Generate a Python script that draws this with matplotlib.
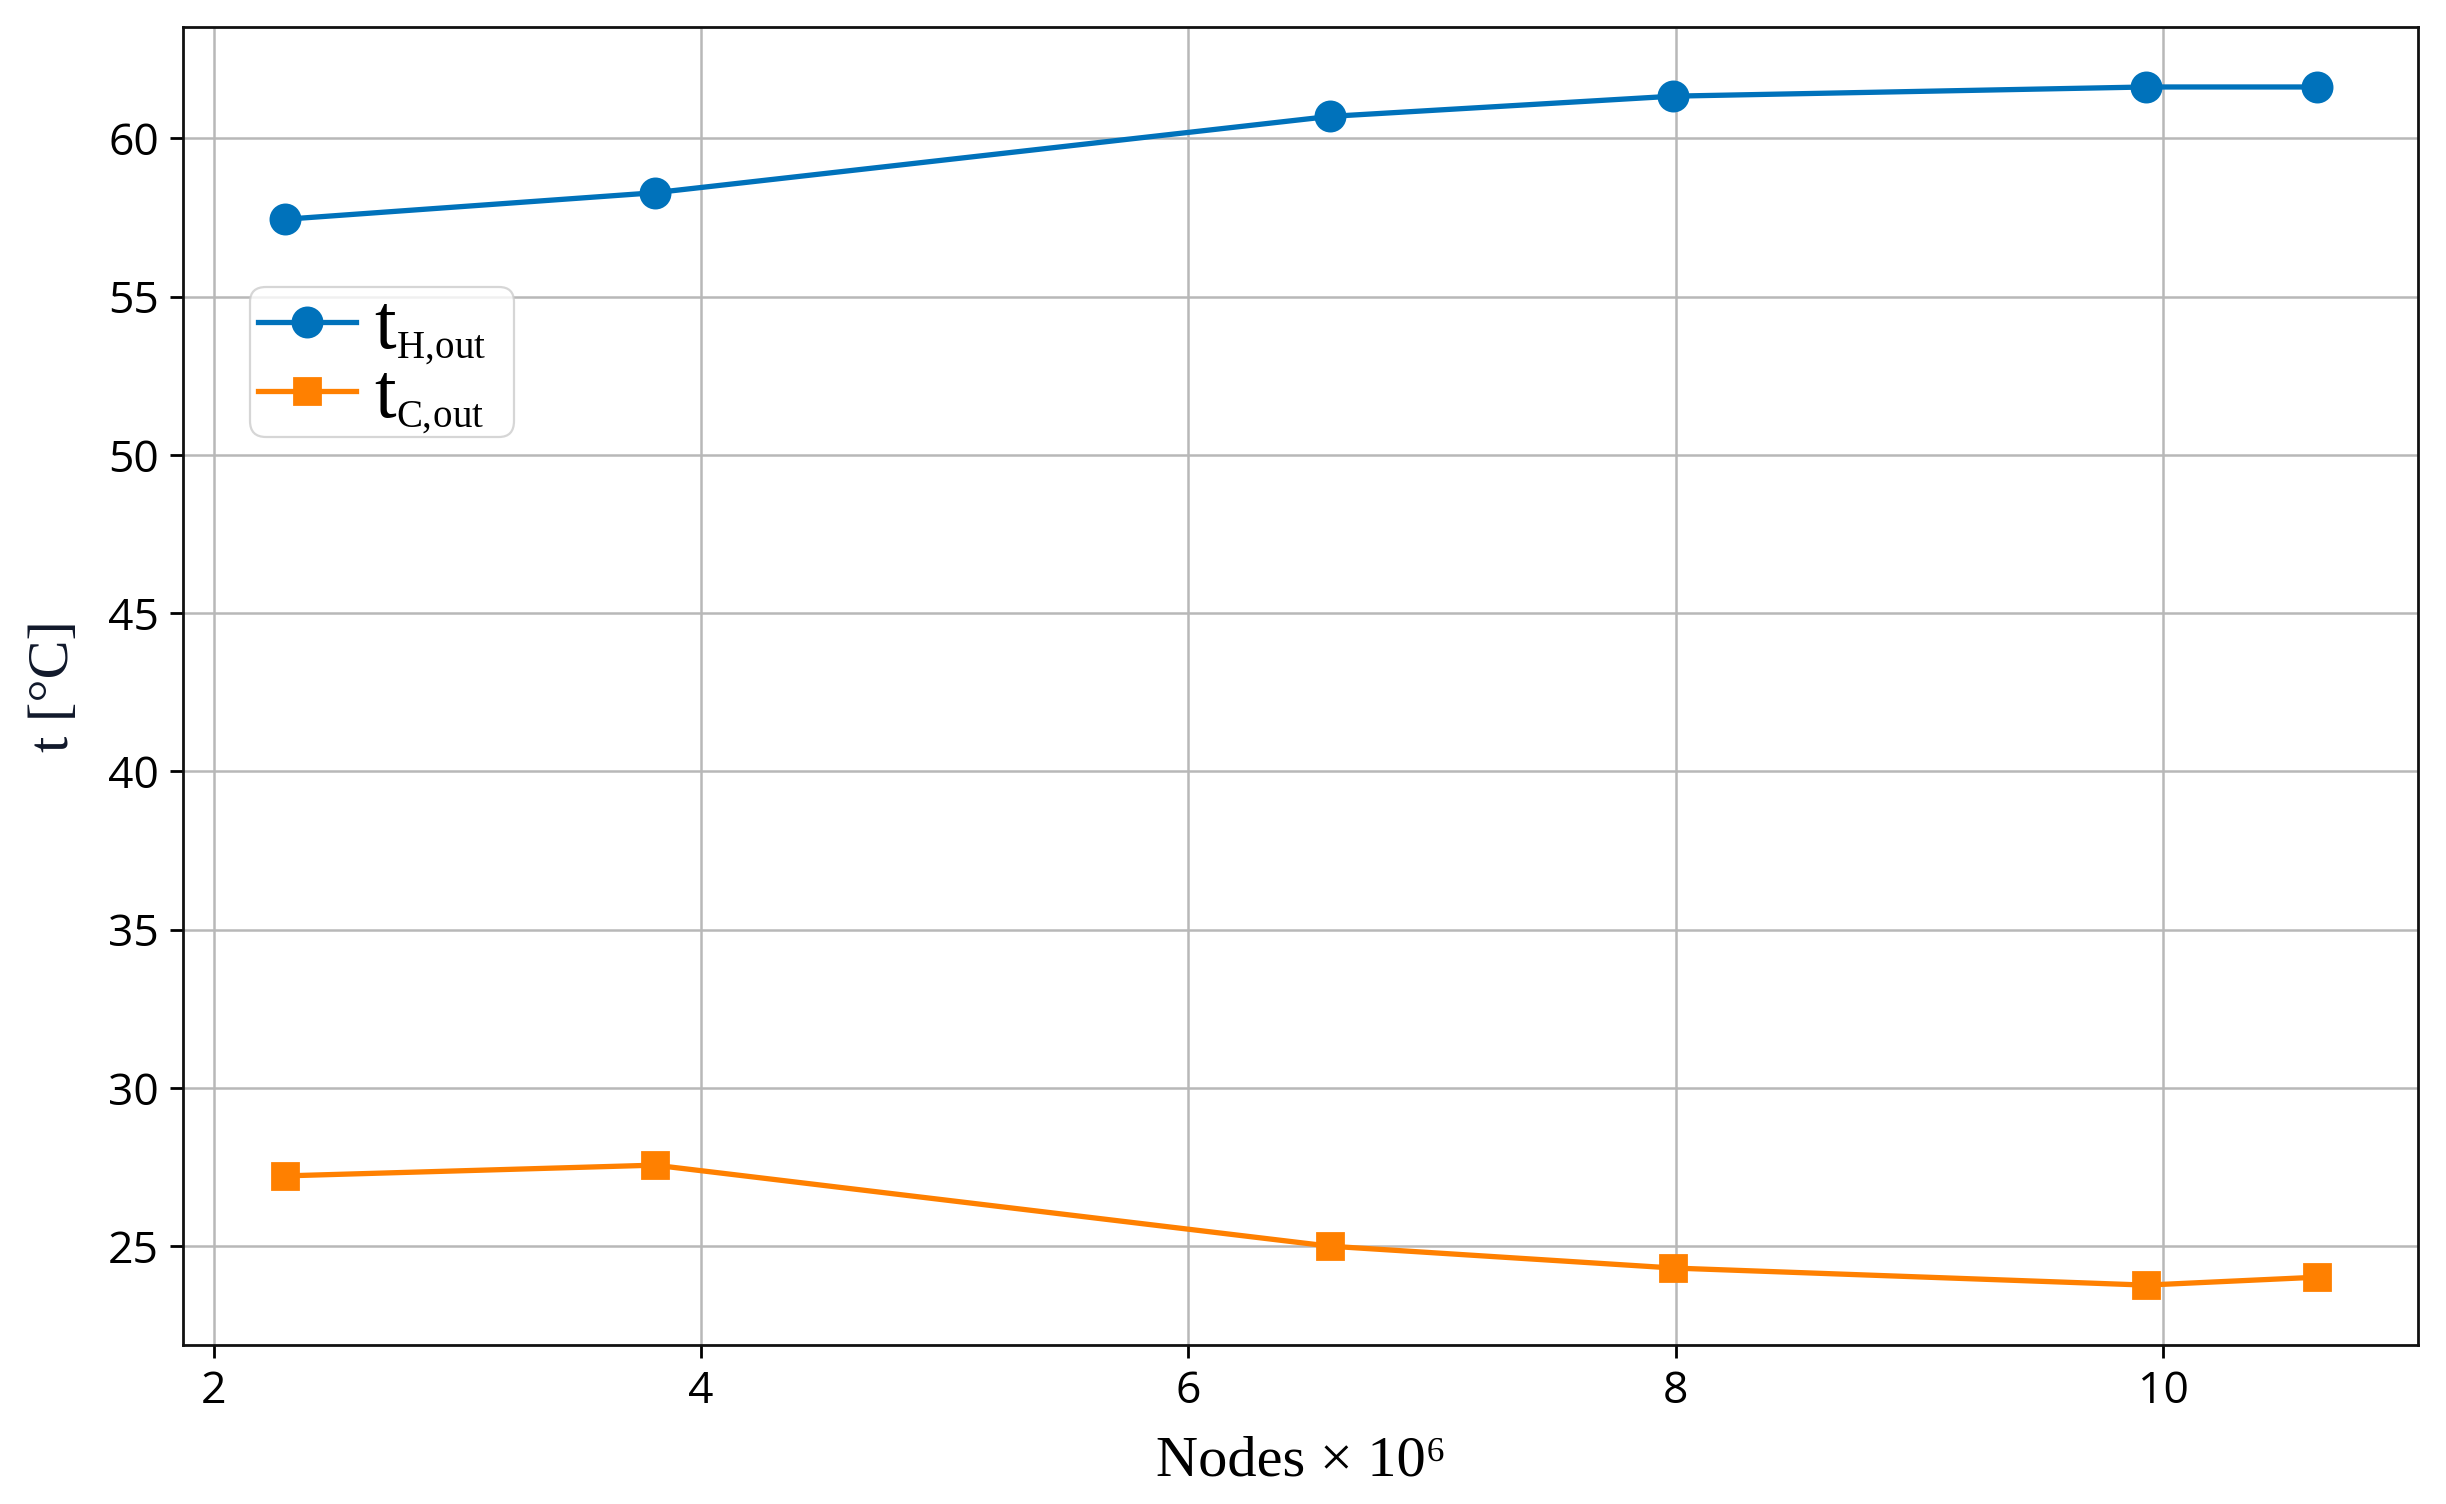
import matplotlib
matplotlib.use("Agg")
import matplotlib.pyplot as plt
import matplotlib._mathtext as _mt

# smaller subscripts, as in the reference legend
_mt.SHRINK_FACTOR = 0.5

nodes = [2.29, 3.81, 6.58, 7.99, 9.93, 10.63]
t_h_out = [57.44, 58.28, 60.69, 61.33, 61.62, 61.62]
t_c_out = [27.22, 27.56, 25.00, 24.31, 23.77, 24.02]
x_ticks = [2, 4, 6, 8, 10]
y_ticks = [25, 30, 35, 40, 45, 50, 55, 60]
labels = [r'$\mathrm{t}_{\mathrm{H,\!out}}$', r'$\mathrm{t}_{\mathrm{C,\!out}}$']

plt.rcParams['mathtext.fontset'] = 'custom'
plt.rcParams['mathtext.rm'] = 'Liberation Serif'
plt.rcParams['mathtext.it'] = 'Liberation Serif:italic'

DPI = 200
fig = plt.figure(figsize=(12.23, 7.52), dpi=DPI)
ax = fig.add_axes([0.0748, 0.1057, 0.9886 - 0.0748, 0.982 - 0.1057])

blue = '#0072bb'
orange = '#ff8000'
LEG_FS = 28
ax.plot(nodes, t_h_out, '-o', color=blue, lw=1.9, ms=10.5, label=labels[0])
ax.plot(nodes, t_c_out, '-s', color=orange, lw=1.9, ms=9.5, label=labels[1])

ax.set_xticks(x_ticks)
ax.set_yticks(y_ticks)
ax.grid(True, color='#b8b8b8', lw=0.9)
ax.set_axisbelow(True)
for s in ax.spines.values():
    s.set_linewidth(1.0)
    s.set_color('#111111')
ax.tick_params(length=4.7, width=1.0, labelsize=16, pad=4)
for lab in ax.get_xticklabels() + ax.get_yticklabels():
    lab.set_fontfamily('Open Sans')

ax.set_xlabel('Nodes × 10⁶', fontsize=21, family='Liberation Serif', labelpad=8)
ax.set_ylabel('t [°C]', fontsize=21, family='Liberation Serif', labelpad=10, color='#10182a')

leg = ax.legend(loc='upper left', bbox_to_anchor=(0.03, 0.803), borderaxespad=0,
                prop={'family': 'Liberation Serif', 'size': LEG_FS}, handlelength=1.26,
                handletextpad=0.24, borderpad=0.1, labelspacing=-0.06, fancybox=True)
leg.get_frame().set_linewidth(0.8)

# widen the legend frame on the right and trim it at the bottom (display pixels)
_orig_set_bounds = leg.legendPatch.set_bounds
def _set_bounds(*args):
    if len(args) == 1:
        l, b, w, h = args[0]
    else:
        l, b, w, h = args
    _orig_set_bounds(l, b + 8, w + 20, h - 8)
leg.legendPatch.set_bounds = _set_bounds

fig.savefig('out.png', dpi=DPI)
